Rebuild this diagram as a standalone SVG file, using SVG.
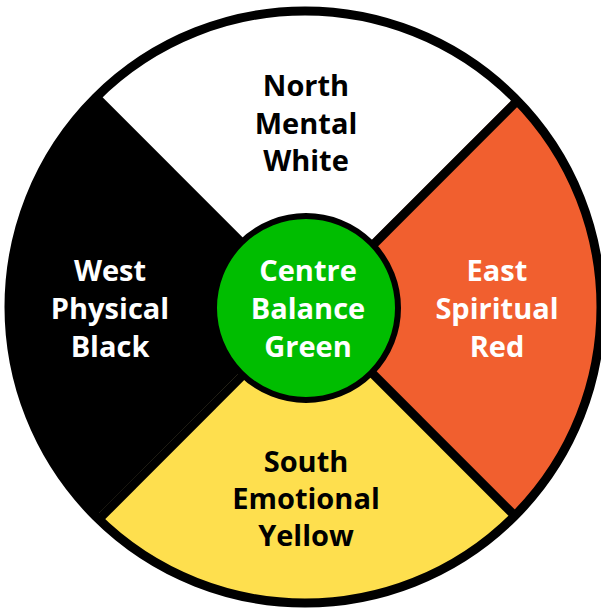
<svg xmlns="http://www.w3.org/2000/svg" width="601" height="609" viewBox="0 0 601 609">
<style>
.lbl{font-family:"Open Sans","Liberation Sans",sans-serif;font-weight:bold;font-size:29px;text-anchor:middle}
.dk{fill:#000}
.lt{fill:#fff}
.div{stroke:#000;stroke-width:9;fill:none}
</style>
<defs>
<clipPath id="c"><circle cx="305" cy="307" r="296"/></clipPath>
</defs>
<rect width="601" height="609" fill="#fff"/>
<g id="north">
<path d="M305,307 L95.7,97.7 A296,296 0 0 1 514.3,97.7 Z" fill="#fff"/>
<text class="lbl dk" x="306" y="96">North</text>
<text class="lbl dk" x="306" y="134">Mental</text>
<text class="lbl dk" x="306" y="171">White</text>
</g>
<g id="east">
<path d="M305,307 L514.3,97.7 A296,296 0 0 1 514.3,516.3 Z" fill="#F15F2F"/>
<text class="lbl lt" x="497" y="281">East</text>
<text class="lbl lt" x="497" y="319">Spiritual</text>
<text class="lbl lt" x="497" y="357">Red</text>
</g>
<g id="south">
<path d="M305,307 L514.3,516.3 A296,296 0 0 1 95.7,516.3 Z" fill="#FEDF4E"/>
<text class="lbl dk" x="306" y="472">South</text>
<text class="lbl dk" x="306" y="509">Emotional</text>
<text class="lbl dk" x="306" y="546">Yellow</text>
</g>
<g id="west">
<path d="M305,307 L95.7,516.3 A296,296 0 0 1 95.7,97.7 Z" fill="#000"/>
<text class="lbl lt" x="110" y="281">West</text>
<text class="lbl lt" x="110" y="319">Physical</text>
<text class="lbl lt" x="110" y="357">Black</text>
</g>
<g id="connectors" clip-path="url(#c)">
<line class="div" x1="0" y1="1" x2="612" y2="613"/>
<line class="div" x1="0" y1="618" x2="618" y2="0"/>
</g>
<g id="rim">
<circle cx="305" cy="307" r="296" fill="none" stroke="#000" stroke-width="9"/>
</g>
<g id="centre">
<circle cx="306" cy="308" r="92" fill="#00BD00" stroke="#000" stroke-width="6"/>
<text class="lbl lt" x="308" y="281">Centre</text>
<text class="lbl lt" x="308" y="319">Balance</text>
<text class="lbl lt" x="308" y="357">Green</text>
</g>
</svg>
